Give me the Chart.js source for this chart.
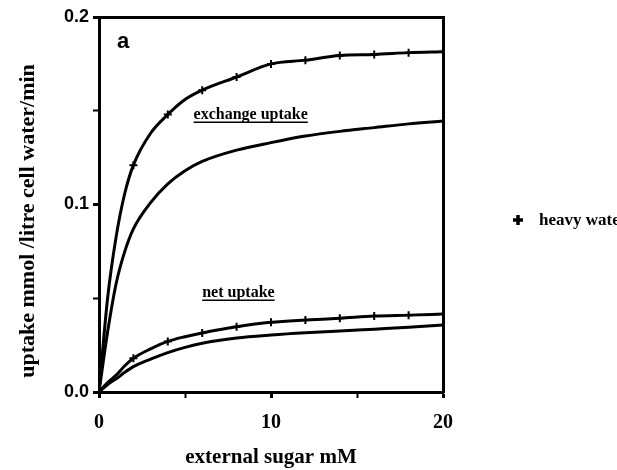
<!DOCTYPE html>
<html>
<head>
<meta charset="utf-8">
<title>Sugar uptake</title>
<script src="https://cdn.jsdelivr.net/npm/chart.js@4/dist/chart.umd.min.js"></script>
<style>
  html, body { margin: 0; padding: 0; background: #fff; }
  canvas { display: block; }
</style>
</head>
<body>
<canvas id="uptakeChart" width="617" height="470"></canvas>
<script>
// external sugar concentration (mM)
const sugarMM = [0, 0.5, 1, 1.5, 2, 3, 4, 5, 6, 8, 10, 12, 14, 16, 18, 20];

// uptake, mmol / litre cell water / min
const exchangeHeavy = [0, 0.050, 0.083, 0.106, 0.121, 0.138, 0.148, 0.156, 0.161, 0.168, 0.175, 0.177, 0.1795, 0.180, 0.181, 0.1815];
const exchangeNormal = [0, 0.032, 0.058, 0.075, 0.087, 0.101, 0.111, 0.118, 0.123, 0.129, 0.133, 0.1365, 0.139, 0.141, 0.143, 0.1445];
const netHeavy = [0, 0.005, 0.009, 0.014, 0.018, 0.023, 0.027, 0.0295, 0.0315, 0.0348, 0.0372, 0.0384, 0.0393, 0.0405, 0.041, 0.0416];
const netNormal = [0, 0.004, 0.007, 0.0105, 0.0135, 0.0175, 0.021, 0.0238, 0.026, 0.0288, 0.0304, 0.0316, 0.0325, 0.0335, 0.0345, 0.0357];

const xTicks = [0, 10, 20];
const yTicks = [0.0, 0.1, 0.2];

const SERIF = '"Liberation Serif", "Times New Roman", serif';
const SANS = '"Liberation Sans", Arial, sans-serif';

function toPoints(values) {
  return sugarMM.map((x, i) => ({ x, y: values[i] }));
}

// crosses only at the measured concentrations
function heavyMarker(ctx) {
  const x = sugarMM[ctx.dataIndex];
  return x > 0 && x % 2 === 0 ? 4 : 0;
}

function curve(values, marker) {
  return {
    data: toPoints(values),
    borderColor: '#000',
    backgroundColor: '#000',
    borderWidth: 3,
    cubicInterpolationMode: 'monotone',
    pointStyle: 'cross',
    pointRadius: marker ? heavyMarker : 0,
    pointBorderWidth: 2,
    pointBorderColor: '#000',
    fill: false
  };
}

// curve labels, panel letter, y axis title and the side key
const labelsPlugin = {
  id: 'uptakeLabels',
  afterDraw(chart) {
    const { ctx } = chart;
    const xs = chart.scales.x;
    const ys = chart.scales.y;
    ctx.save();
    ctx.fillStyle = '#000';
    ctx.strokeStyle = '#000';
    ctx.textBaseline = 'alphabetic';

    ctx.font = 'bold 22px ' + SANS;
    ctx.fillText('a', xs.getPixelForValue(1.05), ys.getPixelForValue(0.1835));

    ctx.font = 'bold 16px ' + SERIF;
    const notes = [
      { text: 'exchange uptake', x: 5.5, y: 0.1455 },
      { text: 'net uptake', x: 6.0, y: 0.0505 }
    ];
    notes.forEach(n => {
      const px = xs.getPixelForValue(n.x);
      const py = ys.getPixelForValue(n.y);
      ctx.fillText(n.text, px, py);
      const w = ctx.measureText(n.text).width;
      ctx.lineWidth = 1.5;
      ctx.beginPath();
      ctx.moveTo(px, py + 3);
      ctx.lineTo(px + w, py + 3);
      ctx.stroke();
    });

    // y axis title
    ctx.save();
    ctx.translate(34, 221);
    ctx.rotate(-Math.PI / 2);
    ctx.textAlign = 'center';
    ctx.font = 'bold 22px ' + SERIF;
    ctx.fillText('uptake mmol /litre cell water/min', 0, 0);
    ctx.restore();

    // key for the marked curves
    const kx = 518;
    const ky = 220;
    ctx.lineWidth = 3.5;
    ctx.beginPath();
    ctx.moveTo(kx - 5, ky);
    ctx.lineTo(kx + 5, ky);
    ctx.moveTo(kx, ky - 5);
    ctx.lineTo(kx, ky + 5);
    ctx.stroke();
    ctx.font = 'bold 17px ' + SERIF;
    ctx.fillText('heavy water', 539, 225);
    ctx.restore();
  }
};

const ctx = document.getElementById('uptakeChart').getContext('2d');

new Chart(ctx, {
  type: 'line',
  data: {
    datasets: [
      curve(exchangeHeavy, true),
      curve(exchangeNormal, false),
      curve(netHeavy, true),
      curve(netNormal, false)
    ]
  },
  options: {
    responsive: false,
    animation: false,
    devicePixelRatio: 1,
    layout: { padding: { left: 0, top: 17, right: 174, bottom: 0 } },
    plugins: {
      legend: { display: false },
      tooltip: { enabled: false }
    },
    scales: {
      x: {
        type: 'linear',
        min: 0,
        max: 20,
        afterFit: s => { s.height = 78; },
        ticks: {
          stepSize: 5,
          padding: 13,
          color: '#000',
          font: { family: SERIF, size: 20, weight: 'bold' },
          maxRotation: 0,
          callback: v => (xTicks.includes(v) ? String(v) : '')
        },
        grid: {
          drawOnChartArea: false,
          tickLength: 6,
          tickColor: '#000',
          tickWidth: c => (c.tick && c.tick.value % 10 === 0 ? 3 : 2)
        },
        border: { display: true, color: '#000', width: 3 },
        title: {
          display: true,
          text: 'external sugar mM',
          color: '#000',
          font: { family: SERIF, size: 21, weight: 'bold' },
          padding: { top: 0, bottom: 0 }
        }
      },
      y: {
        type: 'linear',
        min: 0,
        max: 0.2,
        afterFit: s => { s.width = 99; },
        ticks: {
          stepSize: 0.05,
          padding: 4,
          color: '#000',
          font: { family: SANS, size: 18, weight: 'bold' },
          callback: v => {
            const hit = yTicks.find(t => Math.abs(t - v) < 1e-6);
            return hit === undefined ? '' : hit.toFixed(1);
          }
        },
        grid: {
          drawOnChartArea: false,
          tickLength: 6,
          tickColor: '#000',
          tickWidth: c => (c.tick && Math.round(c.tick.value * 100) % 10 === 0 ? 3 : 2)
        },
        border: { display: true, color: '#000', width: 3 }
      },
      xTop: {
        type: 'linear',
        position: 'top',
        min: 0,
        max: 20,
        afterFit: s => { s.height = 0; },
        ticks: { display: false },
        grid: { display: false, drawTicks: false },
        border: { display: true, color: '#000', width: 3 }
      },
      yRight: {
        type: 'linear',
        position: 'right',
        min: 0,
        max: 0.2,
        afterFit: s => { s.width = 0; },
        ticks: { display: false },
        grid: { display: false, drawTicks: false },
        border: { display: true, color: '#000', width: 3 }
      }
    }
  },
  plugins: [labelsPlugin]
});
</script>
</body>
</html>
